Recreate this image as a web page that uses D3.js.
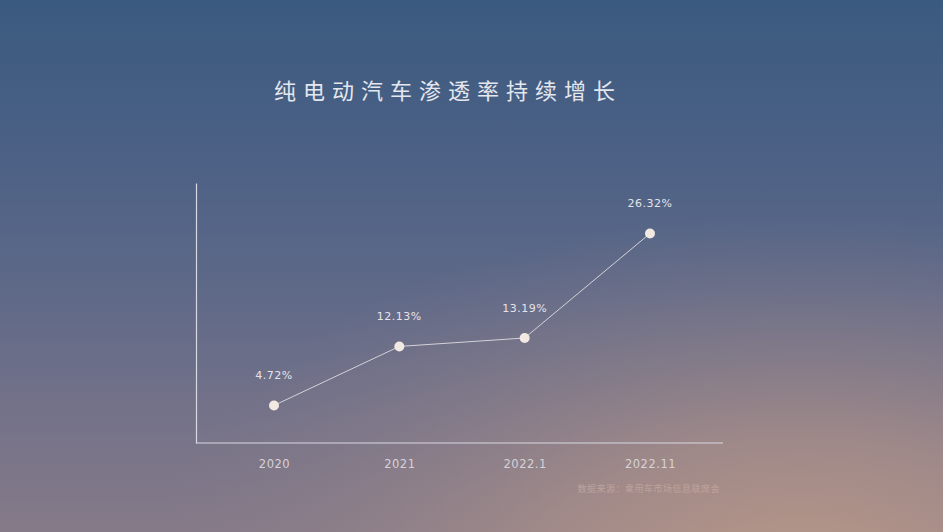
<!DOCTYPE html>
<html>
<head>
<meta charset="utf-8">
<script src="https://cdn.jsdelivr.net/npm/d3@7"></script>
<style>
html,body{margin:0;padding:0;overflow:hidden;background:#5a6a88;}
svg{display:block;}
</style>
</head>
<body>
<svg id="chart" width="943" height="532"></svg>
<script>
const categories = ["2020", "2021", "2022.1", "2022.11"];
const values = [4.72, 12.13, 13.19, 26.32];
const valueLabels = ["4.72%", "12.13%", "13.19%", "26.32%"];
const title = "纯电动汽车渗透率持续增长";
const source = "数据来源：乘用车市场信息联席会";

const W = 943, H = 532;
const svg = d3.select("#chart");
const defs = svg.append("defs");

const lg = defs.append("linearGradient").attr("id","bg").attr("x1",0).attr("y1",0).attr("x2",0).attr("y2",1);
[[0,"#3b5a80"],[0.3,"#4c6185"],[0.55,"#5f6988"],[0.8,"#767389"],[1,"#857a88"]].forEach(s=>
  lg.append("stop").attr("offset",s[0]).attr("stop-color",s[1]));
const rg = defs.append("radialGradient").attr("id","warm").attr("cx",0.85).attr("cy",1.1).attr("r",0.7);
[[0,"#bb9a88",1],[0.4,"#ae9189",0.7],[0.75,"#98868a",0.3],[1,"#8a7e8a",0]].forEach(s=>
  rg.append("stop").attr("offset",s[0]).attr("stop-color",s[1]).attr("stop-opacity",s[2]));

svg.append("rect").attr("width",W).attr("height",H).attr("fill","url(#bg)");
svg.append("rect").attr("width",W).attr("height",H).attr("fill","url(#warm)");

const x = d3.scalePoint().domain(categories).range([274, 650]);
const y = d3.scaleLinear().domain([0, 32.66]).range([443, 183]);

// title
svg.append("text").attr("x",448).attr("y",99).attr("text-anchor","middle")
  .attr("font-family","'Noto Sans CJK SC', sans-serif").attr("font-size",22)
  .attr("letter-spacing",7).attr("fill","#e4e7ee").text(title);

// axes
const xAxis = d3.axisBottom(x).tickSize(0).tickPadding(17);
const gx = svg.append("g").attr("transform","translate(0,443)").call(xAxis);
gx.select(".domain").remove();
gx.append("line").attr("x1",196).attr("x2",723).attr("y1",0).attr("y2",0)
  .attr("stroke","#d8d8e2").attr("stroke-width",1.2);
gx.selectAll("text").attr("font-family","'DejaVu Sans', sans-serif").attr("font-size",11.5)
  .attr("fill","#d6d2d8").attr("letter-spacing",0.5);

const gy = svg.append("g").attr("transform","translate(196,0)")
  .call(d3.axisLeft(y).tickValues([]).tickSizeOuter(0));
gy.select(".domain").attr("stroke","#d8d8e2").attr("stroke-width",1.2);

// line
const data = categories.map((c,i)=>({c, v: values[i], label: valueLabels[i]}));
svg.append("path").datum(data)
  .attr("d", d3.line().x(d=>x(d.c)).y(d=>y(d.v)))
  .attr("fill","none").attr("stroke","#d4d2d8").attr("stroke-width",1);

svg.selectAll("circle.pt").data(data).enter().append("circle")
  .attr("cx",d=>x(d.c)).attr("cy",d=>y(d.v)).attr("r",5)
  .attr("fill","#f1e9e2");

svg.selectAll("text.val").data(data).enter().append("text")
  .attr("x",d=>x(d.c)).attr("y",d=>y(d.v)-26).attr("text-anchor","middle")
  .attr("font-family","'DejaVu Sans', sans-serif").attr("font-size",11)
  .attr("letter-spacing",0.5).attr("fill","#e6e3e8").text(d=>d.label);

// source
svg.append("text").attr("x",720).attr("y",492).attr("text-anchor","end")
  .attr("font-family","'Noto Sans CJK SC', sans-serif").attr("font-size",9)
  .attr("letter-spacing",0.5).attr("fill","#bea39d").text(source);
</script>
</body>
</html>
